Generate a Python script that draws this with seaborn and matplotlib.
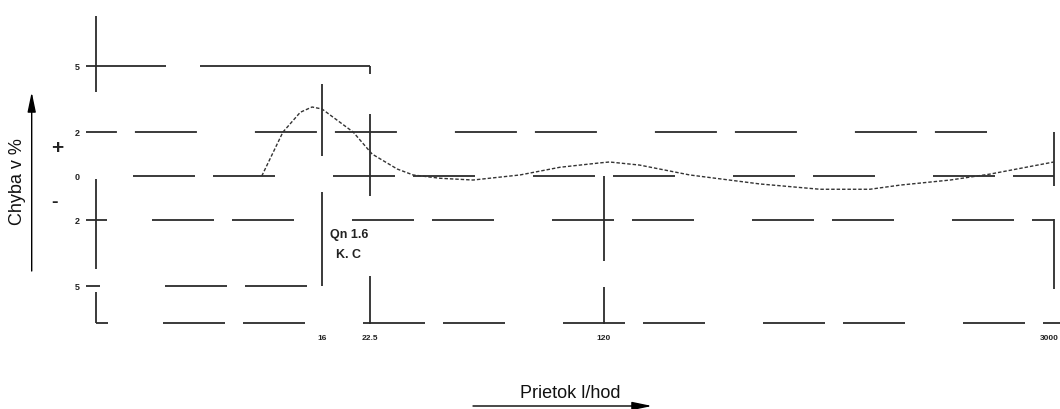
import matplotlib
matplotlib.use('Agg')
import matplotlib.pyplot as plt
import seaborn as sns
import numpy as np
import pandas as pd

# error curve of the meter (flow in l/hod, error in %)
flow = [10.4, 12.1, 13.7, 14.9, 16.0, 20.0, 22.9, 27.4, 30.7, 37.2, 47.1, 65.9,
        87.7, 117, 125, 155, 222, 367, 563, 805, 1000, 1430, 1900, 3000]
error = [0, 2.0, 2.9, 3.14, 3.05, 2.0, 1.0, 0.32, 0.05, -0.1, -0.18, 0.05,
         0.4, 0.6, 0.64, 0.5, 0.05, -0.36, -0.6, -0.6, -0.41, -0.18, 0.09, 0.64]

# horizontal limit lines: level, start flow, end flow, flow where a dash pair starts
row_level = [2, 0, -2, -5, -6.7]
row_start = [2.96, 4.14, 4.75, 5.21, 5.13]
row_end = [1863, 3000, 3000, 14.7, 3134]
row_phase = [2.37, 4.14, 4.75, 5.21, 5.13]

# the +5 line is broken once and stops at 22.5
top_level = 5
top_parts = [(2.96, 5.24), (6.69, 22.5)]

# short stubs on the left axis
stub_level = [-2, -5, -6.7]
stub_start = [2.96, 2.96, 3.18]
stub_end = [3.44, 3.27, 3.46]

# vertical lines: flow, from, to
vert_flow = [3.18, 3.18, 3.18, 16, 16, 22.5, 22.5, 22.5, 120, 120, 3000, 3000]
vert_top = [7.27, -0.14, -5.27, 4.18, -0.73, 5.0, 2.82, -4.55, 0, -5.05, 2.0, -1.95]
vert_bot = [3.82, -4.23, -6.7, 0.91, -5.0, 4.64, -0.91, -6.73, -3.86, -6.73, -0.45, -5.14]

ytick_level = [5, 2, 0, -2, -5]
ytick_text = ['5', '2', '0', '2', '5']
xtick_flow = [16, 22.5, 120, 3000]
xtick_text = ['16', '22.5', '120', '3000']

sns.set_theme(style='white')
plt.rcParams['font.family'] = ['Liberation Sans', 'DejaVu Sans']
plt.rcParams['lines.scale_dashes'] = False

W, H = 1060, 410
fig = plt.figure(figsize=(W / 100, H / 100), dpi=100)
ax = fig.add_axes([0, 0, 1, 1])
ax.set_xscale('log')
ax.set_xlim(1.6, 3134)
ax.set_ylim(-10.59, 8.05)
ax.axis('off')

line_col = '#2b2b2b'
pt = 0.72  # points per pixel at 100 dpi
pattern = [62 * pt, 18 * pt, 62 * pt, 58 * pt]
period = 200


def px(x):
    return ax.transData.transform((x, 0))[0]


for lev, x0, x1, ph in zip(row_level, row_start, row_end, row_phase):
    off = ((px(x0) - px(ph)) % period) * pt
    ax.hlines(lev, x0, x1, colors=line_col, lw=1.3,
              linestyles=[(off, pattern)])

for a, b in top_parts:
    ax.hlines(top_level, a, b, colors=line_col, lw=1.3)

ax.hlines(stub_level, stub_start, stub_end, colors=line_col, lw=1.3)
ax.vlines(vert_flow, vert_bot, vert_top, colors=line_col, lw=1.3)

df = pd.DataFrame({'flow': flow, 'error': error})
sns.lineplot(data=df, x='flow', y='error', ax=ax, color='#333333', lw=1.0,
             linestyle=(0, (2.5, 1.4)), errorbar=None)
ax.set_xlabel('')
ax.set_ylabel('')

for lev, t in zip(ytick_level, ytick_text):
    ax.text(2.83, lev, t, ha='right', va='center', fontsize=6.5,
            fontweight='bold', color='#222222')
for x, t in zip(xtick_flow, xtick_text):
    # the last label sits at the right edge, keep it inside
    ha = 'right' if x == xtick_flow[-1] else 'center'
    xpos = 3110 if x == xtick_flow[-1] else x
    ax.text(xpos, -7.36, t, ha=ha, va='center', fontsize=6,
            fontweight='bold', color='#222222')

ax.text(19.4, -2.65, 'Qn 1.6', ha='center', va='center', fontsize=9,
        fontweight='bold', color='#222222',
        family=['Liberation Sans Narrow', 'Liberation Sans'])
ax.text(19.3, -3.55, 'K. C', ha='center', va='center', fontsize=9,
        fontweight='bold', color='#222222',
        family=['Liberation Sans Narrow', 'Liberation Sans'])


def fx(p):
    return p / W


def fy(p):
    return 1 - p / H


fig.text(fx(17), fy(182), 'Chyba v %', rotation=90, ha='center', va='center',
         fontsize=13, color='#111111')
fig.text(fx(570), fy(394), 'Prietok l/hod', ha='center', va='center',
         fontsize=13, color='#111111')
fig.text(fx(57), fy(149), '+', ha='center', va='center', fontsize=15,
         fontweight='bold', color='#222222')
fig.text(fx(55), fy(203), '-', ha='center', va='center', fontsize=14,
         fontweight='bold', color='#222222')

arrow = dict(arrowstyle='-|>,head_length=1.2,head_width=0.25', lw=1,
             color='black', shrinkA=0, shrinkB=0, mutation_scale=10)
ax.annotate('', xy=(fx(31.7), fy(93)), xytext=(fx(31.7), fy(272)),
            xycoords='figure fraction', textcoords='figure fraction',
            arrowprops=arrow)
ax.annotate('', xy=(fx(652), fy(407)), xytext=(fx(473), fy(407)),
            xycoords='figure fraction', textcoords='figure fraction',
            arrowprops=arrow)

fig.savefig('out.png', dpi=100)
